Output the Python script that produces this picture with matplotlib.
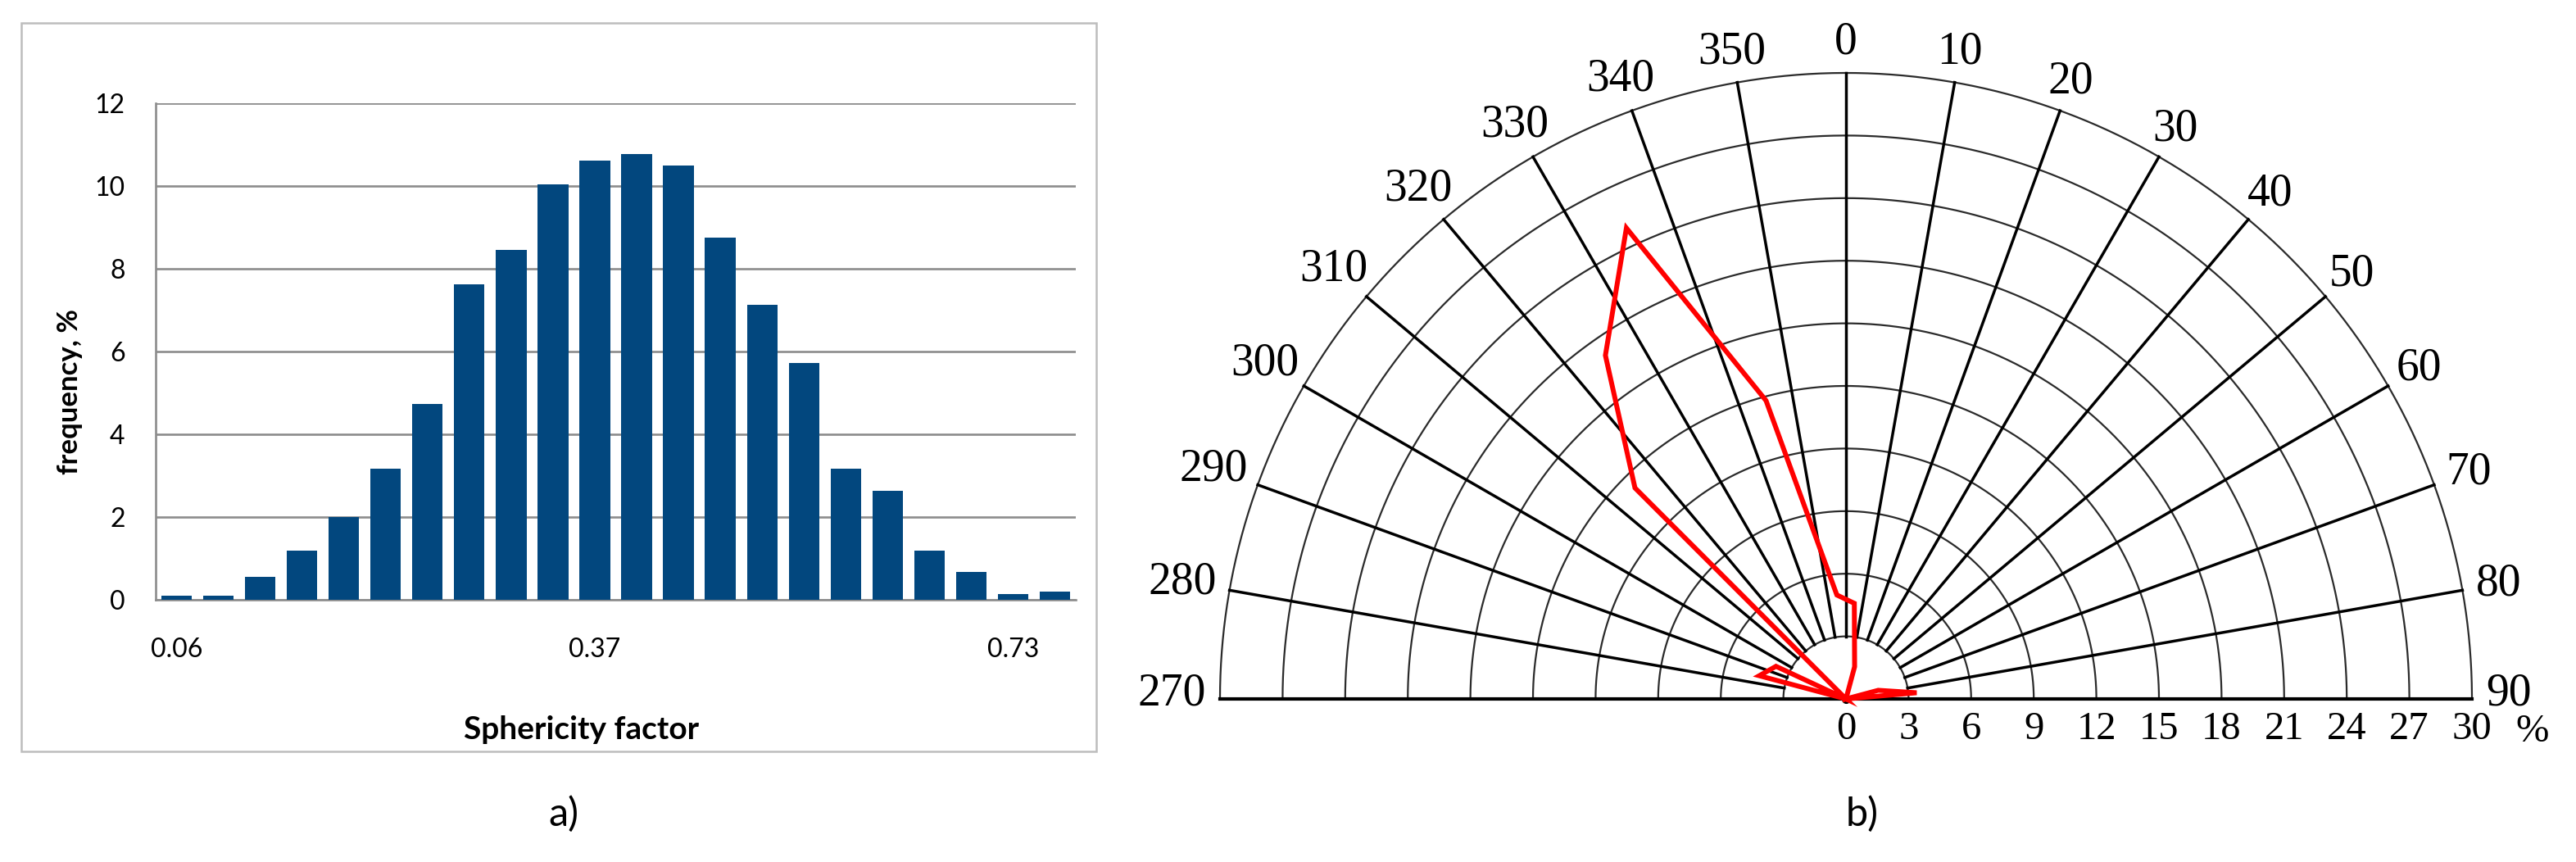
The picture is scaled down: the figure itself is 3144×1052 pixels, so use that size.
import numpy as np
import matplotlib
matplotlib.use("Agg")
import matplotlib.pyplot as plt
from matplotlib.patches import Rectangle

# --- panel a) histogram of sphericity factor ---
freq = [0.10, 0.10, 0.56, 1.19, 2.00, 3.17, 4.73, 7.63, 8.46, 10.03, 10.61,
        10.78, 10.49, 8.75, 7.13, 5.72, 3.17, 2.64, 1.19, 0.67, 0.14, 0.19]
tick_bins = [0, 10, 20]
tick_labels = ['0.06', '0.37', '0.73']

# --- panel b) orientation rose (direction in degrees, share in %) ---
directions = [275, 285, 295, 305, 315, 325, 335, 345, 355,
              5, 15, 25, 35, 45, 55, 65, 75, 85]
shares = [0.0, 4.3, 3.7, 0.0, 14.3, 20.1, 24.9, 14.8, 5.0,
          4.6, 1.6, 0.0, 0.0, 0.0, 0.0, 0.0, 1.6, 3.4]
rings = list(range(3, 31, 3))
spokes = list(range(-80, 81, 10))

W, H = 3144, 1052


def fx(px):
    return px / W


def fy(py):
    return 1 - py / H


fig = plt.figure(figsize=(W / 100, H / 100), dpi=100)
sans = ['Lato', 'DejaVu Sans']
serif = ['Liberation Serif', 'DejaVu Serif']

# frame around the excel-like chart
fig.patches.append(Rectangle((fx(26), fy(917)), (1338 - 26) / W, (917 - 28) / H,
                             transform=fig.transFigure, fill=False,
                             edgecolor='#BDBDBD', lw=1.8))

ax1 = fig.add_axes([fx(190), fy(732), (1313 - 190) / W, (732 - 126) / H])
x = np.arange(len(freq))
ax1.bar(x, freq, width=0.73, color='#02477E', zorder=3)
ax1.set_xlim(-0.5, len(freq) - 0.5)
ax1.set_ylim(0, 12)
ax1.set_yticks(range(0, 13, 2))
ax1.set_xticks(tick_bins)
ax1.set_xticklabels(tick_labels)
ax1.yaxis.grid(True, color='#8C8C8C', lw=1.9)
ax1.set_axisbelow(True)
for s in ['top', 'right']:
    ax1.spines[s].set_visible(False)
for s in ['left', 'bottom']:
    ax1.spines[s].set_color('#8C8C8C')
    ax1.spines[s].set_linewidth(1.9)
ax1.tick_params(axis='y', length=0, labelsize=23, pad=27)
ax1.tick_params(axis='x', length=0, labelsize=23, pad=33)
for t in ax1.get_xticklabels() + ax1.get_yticklabels():
    t.set_family(sans)

fig.text(fx(85), fy(478), 'frequency, %', rotation=90, ha='center', va='center',
         fontsize=25, fontweight='bold', family=sans)
fig.text(fx(710), fy(890), 'Sphericity factor', ha='center', va='center',
         fontsize=28, fontweight='bold', family=sans)
fig.text(fx(688), fy(993), 'a)', ha='center', va='center', fontsize=35, family=sans)

# --- polar half-rose ---
# polar axes keep a square box; the half disc sits in its vertical middle
R = 764
cx, cy = 2253, 853
ax2 = fig.add_axes([fx(cx - R), fy(cy + R / 2), 2 * R / W, 2 * R / H],
                   projection='polar')
ax2.set_theta_zero_location('N')
ax2.set_theta_direction(-1)
ax2.set_thetamin(-90)
ax2.set_thetamax(90)
ax2.set_ylim(0, 30)
ax2.grid(False)
ax2.set_xticks([])
ax2.set_yticks([])
for sp in ax2.spines.values():
    sp.set_visible(False)
ax2.patch.set_visible(False)

th = np.linspace(-np.pi / 2, np.pi / 2, 500)
for r in rings:
    ax2.plot(th, np.full_like(th, r), color='#2B2B2B', lw=1.6, clip_on=False)
for a in spokes:
    ax2.plot([np.radians(a)] * 2, [3, 30], color='black', lw=2.5, clip_on=False)
ax2.plot([-np.pi / 2, -np.pi / 2, np.pi / 2, np.pi / 2], [30, 0, 0, 30],
         color='black', lw=3, clip_on=False)
ax2.plot([0], [0], 'o', color='black', ms=7, clip_on=False)

theta = np.radians([(d + 180) % 360 - 180 for d in directions])
theta = np.append(theta, theta[0])
vals = np.append(shares, shares[0])
ax2.plot(theta, vals, color='#FF0000', lw=4.3, solid_joinstyle='miter',
         zorder=5, clip_on=False)

# direction labels around the rim
px_per = R / 30
for a in range(-90, 91, 10):
    lab = str(a % 360)
    phi = np.radians(a)
    hw = 13.75 * len(lab)
    hh = 19
    off = 18 + np.sqrt((hw * np.sin(phi)) ** 2 + (hh * np.cos(phi)) ** 2)
    lift = 5 if abs(a) == 90 else 0
    ax2.annotate(lab, xy=(phi, 30 + off / px_per), xytext=(0, lift),
                 textcoords='offset points', ha='center', va='center',
                 fontsize=40, family=serif, annotation_clip=False)

# radial scale under the base line
for v in range(0, 31, 3):
    ax2.annotate(str(v), xy=(np.pi / 2, v), xytext=(0, -27),
                 textcoords='offset points', ha='center', va='center',
                 fontsize=35, family=serif, annotation_clip=False)
ax2.annotate('%', xy=(np.pi / 2, 32.9), xytext=(0, -29),
             textcoords='offset points', ha='center', va='center',
             fontsize=35, family=serif, annotation_clip=False)

fig.text(fx(2273), fy(993), 'b)', ha='center', va='center', fontsize=35, family=sans)

fig.savefig('out.png', dpi=100)
